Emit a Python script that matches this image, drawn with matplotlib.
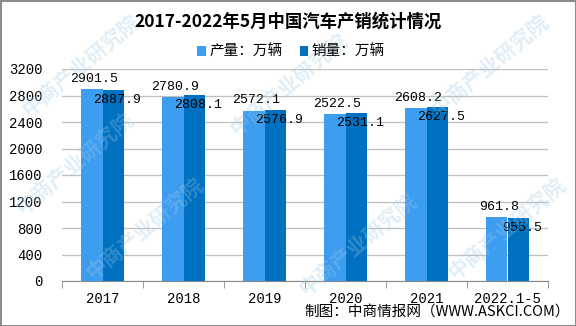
import numpy as np
import matplotlib.pyplot as plt
from matplotlib.patches import Rectangle

plt.rcParams['font.family'] = ['Noto Sans CJK SC', 'DejaVu Sans']

years = ['2017', '2018', '2019', '2020', '2021', '2022.1-5']
output = [2901.5, 2780.9, 2572.1, 2522.5, 2608.2, 961.8]
sales = [2887.9, 2808.1, 2576.9, 2531.1, 2627.5, 955.5]
yticks = [0, 400, 800, 1200, 1600, 2000, 2400, 2800, 3200]

light = '#3d9df0'
dark = '#0070c0'
num_font = ['Liberation Mono', 'DejaVu Sans Mono']

fig = plt.figure(figsize=(5.76, 3.26), dpi=100)
ax = fig.add_axes([62 / 576, 1 - 281 / 326, 486 / 576, 212 / 326])

x = np.arange(len(years))
w = 0.265
ax.bar(x - w / 2, output, w, color=light, label='产量：万辆', zorder=3)
ax.bar(x + w / 2, sales, w, color=dark, label='销量：万辆', zorder=3)

for i in range(len(years)):
    ax.annotate(f'{output[i]}', (x[i] - w / 2, output[i]), xytext=(2, 3),
                textcoords='offset points', ha='center', va='bottom',
                fontsize=9.5, family=num_font, zorder=5)
    ax.annotate(f'{sales[i]}', (x[i] + w / 2, sales[i]), xytext=(3, -3),
                textcoords='offset points', ha='center', va='top',
                fontsize=9.5, family=num_font, zorder=5)

ax.set_xlim(-0.5, len(years) - 0.5)
ax.set_ylim(0, 3200)
ax.set_yticks(yticks)
ax.set_yticklabels([str(t) for t in yticks], family=num_font, fontsize=10)
ax.set_xticks(x)
ax.set_xticklabels(years, family=num_font, fontsize=10)
ax.set_xticks(np.arange(len(years) + 1) - 0.5, minor=True)
ax.tick_params(axis='x', which='major', length=0, pad=8)
ax.tick_params(axis='x', which='minor', length=5, color='#888888')
ax.tick_params(axis='y', length=0, pad=14)
ax.grid(axis='y', color='#bfbfbf', linewidth=0.9, zorder=0)
for s in ['top', 'right', 'left']:
    ax.spines[s].set_visible(False)
ax.spines['bottom'].set_color('#888888')

fig.text(0.5, 1 - 22 / 326, '2017-2022年5月中国汽车产销统计情况', ha='center',
         va='center', fontsize=12.5, fontweight='bold')
fig.legend(loc='center', bbox_to_anchor=(0.505, 1 - 52 / 326), ncol=2,
           frameon=False, fontsize=10.5, handlelength=0.6, handleheight=0.6,
           handletextpad=0.2, columnspacing=1.2)

fig.text(0.99, 1 - 312 / 326, '制图：中商情报网（WWW.ASKCI.COM）', ha='right',
         va='center', fontsize=10.5)

# faint site watermark
for wx, wy in [(0.14, 0.8), (0.5, 0.74), (0.85, 0.8), (0.25, 0.3),
               (0.62, 0.25), (0.88, 0.3), (0.13, 0.5)]:
    fig.text(wx, wy, '中商产业研究院', rotation=40, fontsize=15,
             color='#9cc8e6', alpha=0.3, ha='center', va='center',
             fontweight='bold', zorder=0)

fig.patches.append(Rectangle((0.5 / 576, 0.5 / 326), 575 / 576, 325 / 326,
                             transform=fig.transFigure, fill=False,
                             edgecolor='#8c8c8c', linewidth=1.5))

fig.savefig('out.png', dpi=100)
